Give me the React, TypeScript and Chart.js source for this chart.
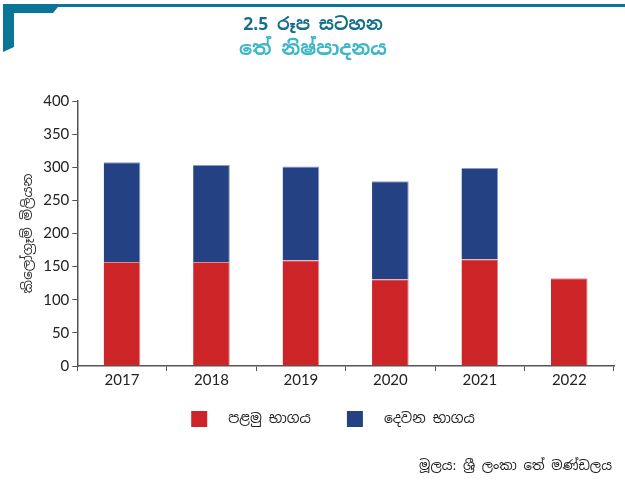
import React, { useEffect, useRef } from "react";
import { Chart, registerables } from "chart.js";

Chart.register(...registerables);

const years = ["2017", "2018", "2019", "2020", "2021", "2022"];
const firstHalf = [157, 157, 159.5, 131, 161, 132.5];
const secondHalf: (number | null)[] = [150.5, 146.5, 141.5, 148, 138, null];
const seriesNames = ["පළමු භාගය", "දෙවන භාගය"];
const titleText = "2.5 රූප සටහන";
const subtitleText = "තේ නිෂ්පාදනය";
const yAxisTitle = "කිලෝග්‍රෑම් මිලියන";
const sourceText = "මූලය: ශ්‍රී ලංකා තේ මණ්ඩලය";

const FONT = "'Noto Sans Sinhala', Lato, 'Noto Sans', sans-serif";

const decorPlugin = {
  id: "decor",
  afterLayout(chart: any) {
    const lg = chart.legend;
    if (lg) {
      lg.left += 16;
      lg.right += 16;
    }
  },
  afterDraw(chart: any) {
    const ctx = chart.ctx as CanvasRenderingContext2D;
    ctx.save();
    ctx.fillStyle = "#0a7597";
    ctx.beginPath();
    ctx.moveTo(3, 4);
    ctx.lineTo(625, 4);
    ctx.lineTo(625, 7);
    ctx.lineTo(58, 7);
    ctx.lineTo(53, 13);
    ctx.lineTo(14, 13);
    ctx.lineTo(14, 47);
    ctx.lineTo(3, 52);
    ctx.closePath();
    ctx.fill();
    ctx.textAlign = "center";
    ctx.textBaseline = "middle";
    ctx.fillStyle = "#136e8b";
    ctx.font = `bold 17.5px ${FONT}`;
    ctx.fillText(titleText, 313, 25);
    ctx.fillStyle = "#3db6c7";
    ctx.font = `bold 19.5px ${FONT}`;
    ctx.fillText(subtitleText, 313, 50);
    ctx.textAlign = "right";
    ctx.fillStyle = "#222";
    ctx.font = `13.3px ${FONT}`;
    ctx.fillText(sourceText, 612, 466);
    ctx.restore();
  },
};

export default function App() {
  const ref = useRef<HTMLCanvasElement>(null);
  useEffect(() => {
    document.body.style.margin = "0";
    const chart = new Chart(ref.current!, {
      type: "bar",
      data: {
        labels: years,
        datasets: [
          {
            label: seriesNames[0],
            data: firstHalf,
            backgroundColor: "#cd2428",
            borderColor: "#e68a8c",
            borderWidth: { right: 1, top: 1 } as any,
          },
          {
            label: seriesNames[1],
            data: secondHalf,
            backgroundColor: "#244183",
            borderColor: "#8a9cc6",
            borderWidth: { right: 1, top: 1 } as any,
          },
        ],
      },
      options: {
        animation: false,
        responsive: false,
        maintainAspectRatio: false,
        datasets: { bar: { categoryPercentage: 1, barPercentage: 0.41 } },
        layout: { padding: { top: 101, left: 20, right: 11, bottom: 52 } },
        plugins: {
          title: { display: false },
          tooltip: { enabled: false },
          legend: {
            position: "bottom",
            labels: {
              boxWidth: 16,
              boxHeight: 16,
              padding: 22,
              color: "#222",
              font: { family: FONT, size: 14 },
              generateLabels(chart: any) {
                return chart.data.datasets.map((ds: any, i: number) => ({
                  text: "  " + ds.label + (i === 0 ? "  " : ""),
                  fillStyle: ds.backgroundColor,
                  strokeStyle: ds.backgroundColor,
                  lineWidth: 0,
                  hidden: false,
                  datasetIndex: i,
                  fontColor: "#222",
                }));
              },
            },
          },
        },
        scales: {
          x: {
            stacked: true,
            offset: true,
            border: { color: "#555", width: 1.5 },
            grid: { offset: true, drawOnChartArea: false, drawTicks: true, tickLength: 5, color: "#555" },
            ticks: { color: "#222", font: { family: "Lato, sans-serif", size: 15 }, padding: 0 },
          },
          y: {
            stacked: true,
            min: 0,
            max: 400,
            border: { color: "#555", width: 1.5 },
            grid: { drawOnChartArea: false, drawTicks: true, tickLength: 5, color: "#555" },
            ticks: { stepSize: 50, color: "#222", font: { family: "Lato, sans-serif", size: 15 }, padding: 3 },
            title: {
              display: true,
              text: yAxisTitle,
              color: "#333",
              font: { family: FONT, size: 13.5 },
              padding: { top: 0, bottom: 4 },
            },
          },
        },
      },
      plugins: [decorPlugin],
    });
    return () => chart.destroy();
  }, []);
  return (
    <div style={{ position: "fixed", left: 0, top: 0, width: 625, height: 489, background: "#fff" }}>
      <canvas ref={ref} width={625} height={489} style={{ width: 625, height: 489 }} />
    </div>
  );
}
